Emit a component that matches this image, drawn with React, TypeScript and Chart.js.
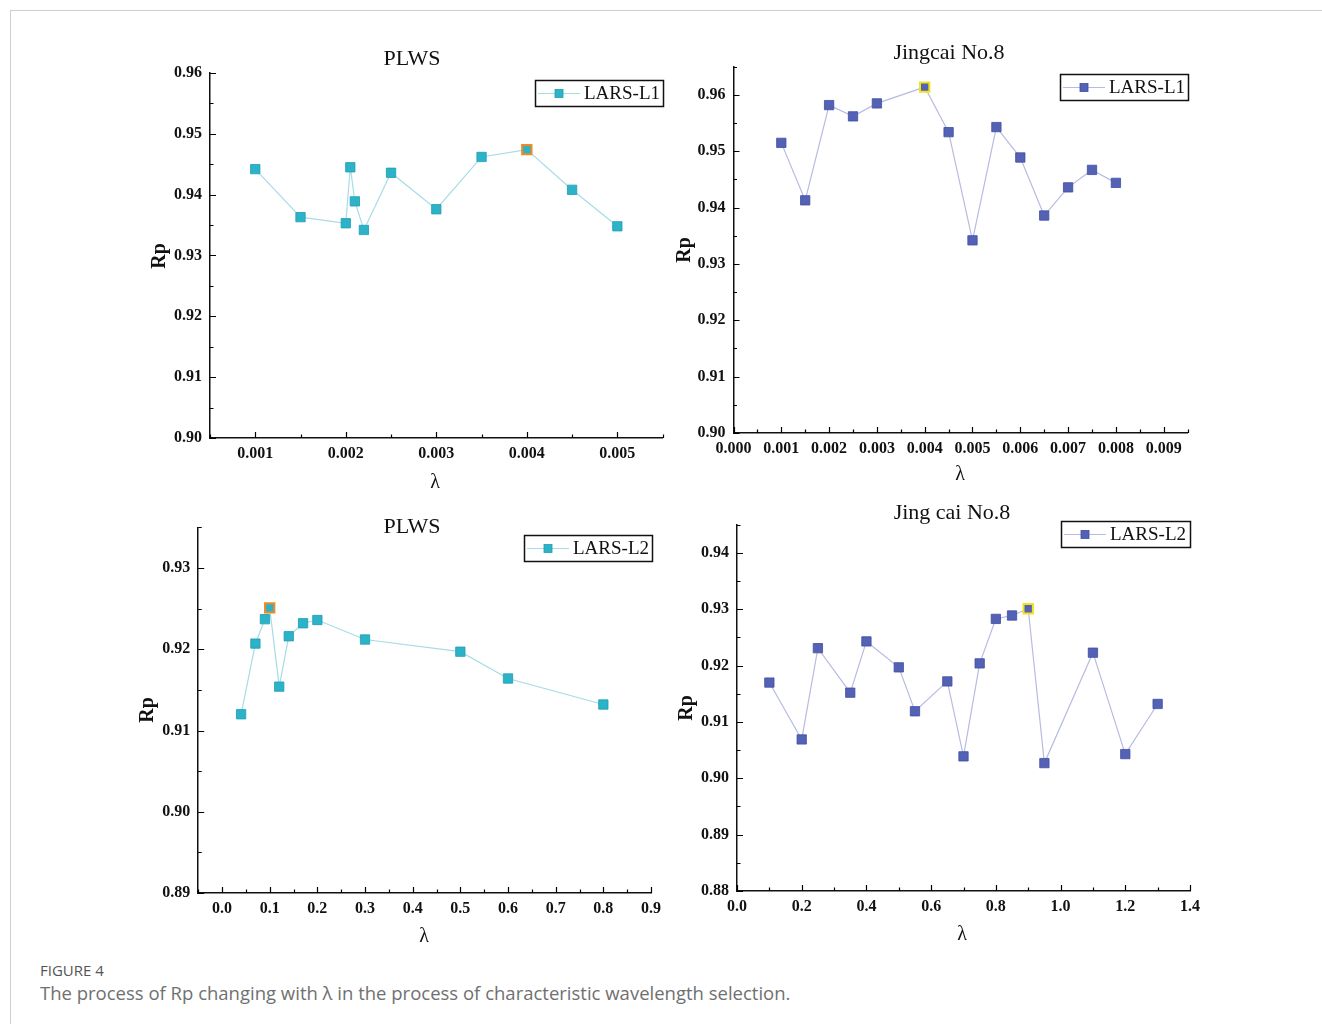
import React, { useEffect, useRef } from "react";
import { Chart, registerables } from "chart.js";
Chart.register(...registerables);

// ---------- DATA ----------
// Panel 1: PLWS, LARS-L1
const P1_LAMBDA = [0.001, 0.0015, 0.002, 0.00205, 0.0021, 0.0022, 0.0025, 0.003, 0.0035, 0.004, 0.0045, 0.005];
const P1_RP = [0.9442, 0.9363, 0.9353, 0.9445, 0.9389, 0.9342, 0.9436, 0.9376, 0.9462, 0.9474, 0.9408, 0.9348];
const P1_BEST = 9;
const P1_X_TICKS = [0.001, 0.002, 0.003, 0.004, 0.005];
const P1_Y_TICKS = [0.9, 0.91, 0.92, 0.93, 0.94, 0.95, 0.96];

// Panel 2: Jingcai No.8, LARS-L1
const P2_LAMBDA = [0.001, 0.0015, 0.002, 0.0025, 0.003, 0.004, 0.0045, 0.005, 0.0055, 0.006, 0.0065, 0.007, 0.0075, 0.008];
const P2_RP = [0.9515, 0.9413, 0.9582, 0.9562, 0.9585, 0.9614, 0.9534, 0.9342, 0.9543, 0.9489, 0.9386, 0.9436, 0.9467, 0.9444];
const P2_BEST = 5;
const P2_X_TICKS = [0, 0.001, 0.002, 0.003, 0.004, 0.005, 0.006, 0.007, 0.008, 0.009];
const P2_Y_TICKS = [0.9, 0.91, 0.92, 0.93, 0.94, 0.95, 0.96];

// Panel 3: PLWS, LARS-L2
const P3_LAMBDA = [0.04, 0.07, 0.09, 0.1, 0.12, 0.14, 0.17, 0.2, 0.3, 0.5, 0.6, 0.8];
const P3_RP = [0.912, 0.9207, 0.9237, 0.9251, 0.9154, 0.9216, 0.9232, 0.9236, 0.9212, 0.9197, 0.9164, 0.9132];
const P3_BEST = 3;
const P3_X_TICKS = [0, 0.1, 0.2, 0.3, 0.4, 0.5, 0.6, 0.7, 0.8, 0.9];
const P3_Y_TICKS = [0.89, 0.9, 0.91, 0.92, 0.93];

// Panel 4: Jing cai No.8, LARS-L2
const P4_LAMBDA = [0.1, 0.2, 0.25, 0.35, 0.4, 0.5, 0.55, 0.65, 0.7, 0.75, 0.8, 0.85, 0.9, 0.95, 1.1, 1.2, 1.3];
const P4_RP = [0.917, 0.9069, 0.9231, 0.9152, 0.9243, 0.9197, 0.9119, 0.9172, 0.9039, 0.9204, 0.9283, 0.9289, 0.9301, 0.9027, 0.9223, 0.9043, 0.9132];
const P4_BEST = 12;
const P4_X_TICKS = [0, 0.2, 0.4, 0.6, 0.8, 1.0, 1.2, 1.4];
const P4_Y_TICKS = [0.88, 0.89, 0.9, 0.91, 0.92, 0.93, 0.94];

// ---------- STYLE ----------
const CYAN_MARK = "#2db3c8";
const CYAN_EDGE = "#1c9db2";
const CYAN_LINE = "#a6dce6";
const BLUE_MARK = "#5462b6";
const BLUE_EDGE = "#404d9f";
const BLUE_LINE = "#b7bbe2";
const ORANGE_HI = "#f08a24";
const YELLOW_HI = "#f2e21a";
const SERIF = "'Liberation Serif', 'Times New Roman', serif";

const Y_W = 55;
const X_H = 30;

type Panel = {
  xs: number[];
  ys: number[];
  best: number;
  xTicks: number[];
  yTicks: number[];
  xMin: number;
  xMax: number;
  yMin: number;
  yMax: number;
  xDec: number;
  canvas: { l: number; t: number; w: number; h: number };
  area: { l: number; t: number; r: number; b: number };
  title: string;
  titlePos: [number, number];
  rpPos: [number, number];
  lamPos: [number, number];
  legend: { l: number; t: number; w: number; h: number };
  legendText: string;
  mark: string;
  edge: string;
  line: string;
  hi: string;
};

const PANELS: Panel[] = [
  {
    xs: P1_LAMBDA, ys: P1_RP, best: P1_BEST, xTicks: P1_X_TICKS, yTicks: P1_Y_TICKS,
    xMin: 0.0005, xMax: 0.0055, yMin: 0.9, yMax: 0.96, xDec: 3,
    canvas: { l: 140, t: 30, w: 530, h: 470 },
    area: { l: 210, t: 73, r: 663, b: 438 },
    title: "PLWS", titlePos: [412, 59], rpPos: [160, 256], lamPos: [435, 483],
    legend: { l: 535, t: 80, w: 128, h: 26 }, legendText: "LARS-L1",
    mark: CYAN_MARK, edge: CYAN_EDGE, line: CYAN_LINE, hi: ORANGE_HI,
  },
  {
    xs: P2_LAMBDA, ys: P2_RP, best: P2_BEST, xTicks: P2_X_TICKS, yTicks: P2_Y_TICKS,
    xMin: 0, xMax: 0.0095, yMin: 0.9, yMax: 0.965, xDec: 3,
    canvas: { l: 670, t: 30, w: 530, h: 470 },
    area: { l: 733.5, t: 66.8, r: 1187.6, b: 433 },
    title: "Jingcai No.8", titlePos: [949, 53], rpPos: [685, 250], lamPos: [960, 475],
    legend: { l: 1060, t: 74, w: 128, h: 26 }, legendText: "LARS-L1",
    mark: BLUE_MARK, edge: BLUE_EDGE, line: BLUE_LINE, hi: YELLOW_HI,
  },
  {
    xs: P3_LAMBDA, ys: P3_RP, best: P3_BEST, xTicks: P3_X_TICKS, yTicks: P3_Y_TICKS,
    xMin: -0.05, xMax: 0.9, yMin: 0.89, yMax: 0.935, xDec: 1,
    canvas: { l: 130, t: 500, w: 540, h: 450 },
    area: { l: 198.2, t: 527.4, r: 651, b: 893 },
    title: "PLWS", titlePos: [412, 527], rpPos: [148, 710], lamPos: [424, 937],
    legend: { l: 524, t: 535, w: 128, h: 26 }, legendText: "LARS-L2",
    mark: CYAN_MARK, edge: CYAN_EDGE, line: CYAN_LINE, hi: ORANGE_HI,
  },
  {
    xs: P4_LAMBDA, ys: P4_RP, best: P4_BEST, xTicks: P4_X_TICKS, yTicks: P4_Y_TICKS,
    xMin: 0, xMax: 1.4, yMin: 0.88, yMax: 0.945, xDec: 1,
    canvas: { l: 670, t: 495, w: 540, h: 455 },
    area: { l: 737, t: 524.8, r: 1190, b: 891 },
    title: "Jing cai No.8", titlePos: [952, 513], rpPos: [687, 708], lamPos: [962, 935],
    legend: { l: 1061, t: 521, w: 129, h: 26 }, legendText: "LARS-L2",
    mark: BLUE_MARK, edge: BLUE_EDGE, line: BLUE_LINE, hi: YELLOW_HI,
  },
];

function minorTicks(major: number[], min: number, max: number): number[] {
  const step = major[1] - major[0];
  const out: number[] = [];
  const eps = step * 1e-6;
  let v = major[0] - step / 2;
  while (v - step >= min - eps) v -= step;
  for (; v <= max + eps; v += step) {
    if (v >= min - eps) out.push(v);
  }
  return out;
}

function decorPlugin(p: Panel) {
  const ox = p.canvas.l;
  const oy = p.canvas.t;
  return {
    id: "decor",
    afterDraw(chart: any) {
      const ctx: CanvasRenderingContext2D = chart.ctx;
      const xs = chart.scales.x;
      const ys = chart.scales.y;
      const ca = chart.chartArea;
      ctx.save();
      ctx.strokeStyle = "#000";
      ctx.lineWidth = 1.2;
      // inward ticks, x axis
      const xMinor = minorTicks(p.xTicks, p.xMin, p.xMax);
      ctx.beginPath();
      p.xTicks.forEach((v) => {
        const px = Math.round(xs.getPixelForValue(v)) + 0.5;
        ctx.moveTo(px, ca.bottom);
        ctx.lineTo(px, ca.bottom - 6);
      });
      xMinor.forEach((v) => {
        const px = Math.round(xs.getPixelForValue(v)) + 0.5;
        ctx.moveTo(px, ca.bottom);
        ctx.lineTo(px, ca.bottom - 3.5);
      });
      // inward ticks, y axis
      const yMinor = minorTicks(p.yTicks, p.yMin, p.yMax);
      p.yTicks.forEach((v) => {
        const py = Math.round(ys.getPixelForValue(v)) + 0.5;
        ctx.moveTo(ca.left, py);
        ctx.lineTo(ca.left + 6, py);
      });
      yMinor.forEach((v) => {
        const py = Math.round(ys.getPixelForValue(v)) + 0.5;
        ctx.moveTo(ca.left, py);
        ctx.lineTo(ca.left + 3.5, py);
      });
      ctx.stroke();

      // title
      ctx.fillStyle = "#111";
      ctx.textAlign = "center";
      ctx.textBaseline = "middle";
      ctx.font = `22px ${SERIF}`;
      ctx.fillText(p.title, p.titlePos[0] - ox, p.titlePos[1] - oy);
      // x label
      ctx.font = `20px ${SERIF}`;
      ctx.fillText("λ", p.lamPos[0] - ox, p.lamPos[1] - oy);
      // y label
      ctx.save();
      ctx.translate(p.rpPos[0] - ox, p.rpPos[1] - oy);
      ctx.rotate(-Math.PI / 2);
      ctx.font = `bold 20px ${SERIF}`;
      ctx.fillText("Rp", 0, 0);
      ctx.restore();

      // legend
      const L = p.legend;
      const lx = L.l - ox;
      const ly = L.t - oy;
      ctx.fillStyle = "#fff";
      ctx.fillRect(lx, ly, L.w, L.h);
      ctx.strokeStyle = "#111";
      ctx.lineWidth = 1.5;
      ctx.strokeRect(lx + 0.5, ly + 0.5, L.w, L.h);
      const midY = ly + L.h / 2 + 0.5;
      ctx.strokeStyle = p.line;
      ctx.lineWidth = 1;
      ctx.beginPath();
      ctx.moveTo(lx + 3, midY);
      ctx.lineTo(lx + 45, midY);
      ctx.stroke();
      ctx.fillStyle = p.mark;
      ctx.fillRect(lx + 24 - 4, midY - 4, 8, 8);
      ctx.strokeStyle = p.edge;
      ctx.lineWidth = 0.8;
      ctx.strokeRect(lx + 24 - 4, midY - 4, 8, 8);
      ctx.fillStyle = "#111";
      ctx.textAlign = "left";
      ctx.font = `19px ${SERIF}`;
      ctx.fillText(p.legendText, lx + 49, midY + 1);
      ctx.restore();
    },
  };
}

function makeConfig(p: Panel): any {
  const padLeft = p.area.l - p.canvas.l - Y_W;
  const padTop = p.area.t - p.canvas.t;
  const padRight = p.canvas.l + p.canvas.w - p.area.r;
  const padBottom = p.canvas.t + p.canvas.h - p.area.b - X_H;
  const tickFont = { family: SERIF, size: 16, weight: "bold" as const };
  return {
    type: "scatter",
    data: {
      datasets: [
        {
          data: p.xs.map((x, i) => ({ x, y: p.ys[i] })),
          showLine: true,
          borderColor: p.line,
          borderWidth: 1.2,
          pointStyle: "rect",
          pointRadius: 6.6,
          pointHoverRadius: 6.6,
          pointBackgroundColor: p.mark,
          pointBorderColor: p.xs.map((_, i) => (i === p.best ? p.hi : p.edge)),
          pointBorderWidth: p.xs.map((_, i) => (i === p.best ? 2 : 0.8)),
          tension: 0,
        },
      ],
    },
    options: {
      animation: false,
      responsive: false,
      devicePixelRatio: 1,
      events: [],
      layout: { padding: { left: padLeft, top: padTop, right: padRight, bottom: padBottom } },
      plugins: {
        legend: { display: false },
        tooltip: { enabled: false },
        title: { display: false },
      },
      scales: {
        x: {
          type: "linear",
          min: p.xMin,
          max: p.xMax,
          afterBuildTicks: (s: any) => {
            s.ticks = p.xTicks.map((v) => ({ value: v }));
          },
          afterFit: (s: any) => {
            s.height = X_H;
          },
          ticks: {
            callback: (v: number) => Number(v).toFixed(p.xDec),
            font: tickFont,
            color: "#111",
            padding: 6,
            autoSkip: false,
            maxRotation: 0,
            includeBounds: false,
          },
          grid: { display: false, drawTicks: false },
          border: { display: true, color: "#111", width: 1.5 },
        },
        y: {
          type: "linear",
          min: p.yMin,
          max: p.yMax,
          afterBuildTicks: (s: any) => {
            s.ticks = p.yTicks.map((v) => ({ value: v }));
          },
          afterFit: (s: any) => {
            s.width = Y_W;
          },
          ticks: {
            callback: (v: number) => Number(v).toFixed(2),
            font: tickFont,
            color: "#111",
            padding: 8,
            autoSkip: false,
            includeBounds: false,
          },
          grid: { display: false, drawTicks: false },
          border: { display: true, color: "#111", width: 1.5 },
        },
      },
    },
    plugins: [decorPlugin(p)],
  };
}

function PanelChart({ p }: { p: Panel }) {
  const ref = useRef<HTMLCanvasElement | null>(null);
  useEffect(() => {
    if (!ref.current) return;
    const chart = new Chart(ref.current, makeConfig(p));
    return () => chart.destroy();
  }, [p]);
  return (
    <canvas
      ref={ref}
      width={p.canvas.w}
      height={p.canvas.h}
      style={{
        position: "absolute",
        left: p.canvas.l,
        top: p.canvas.t,
        width: p.canvas.w,
        height: p.canvas.h,
      }}
    />
  );
}

export default function App() {
  useEffect(() => {
    document.documentElement.style.overflow = "hidden";
    document.body.style.overflow = "hidden";
  }, []);
  return (
    <div>
      <div
        style={{
          position: "absolute",
          left: 10,
          top: 10,
          width: 1311,
          height: 1013,
          borderTop: "1px solid #cfcfcf",
          borderLeft: "1px solid #cfcfcf",
          background: "#fff",
        }}
      />
      {PANELS.map((p, i) => (
        <PanelChart key={i} p={p} />
      ))}
      <div
        style={{
          position: "absolute",
          left: 40,
          top: 961,
          fontFamily: "'Open Sans', sans-serif",
          fontSize: 15,
          color: "#555",
          lineHeight: "18px",
          letterSpacing: 0,
        }}
      >
        FIGURE 4
      </div>
      <div
        style={{
          position: "absolute",
          left: 40,
          top: 981,
          fontFamily: "'Open Sans', sans-serif",
          fontSize: 18.5,
          color: "#707070",
          lineHeight: "24px",
          whiteSpace: "nowrap",
        }}
      >
        The process of Rp changing with λ in the process of characteristic wavelength selection.
      </div>
    </div>
  );
}
